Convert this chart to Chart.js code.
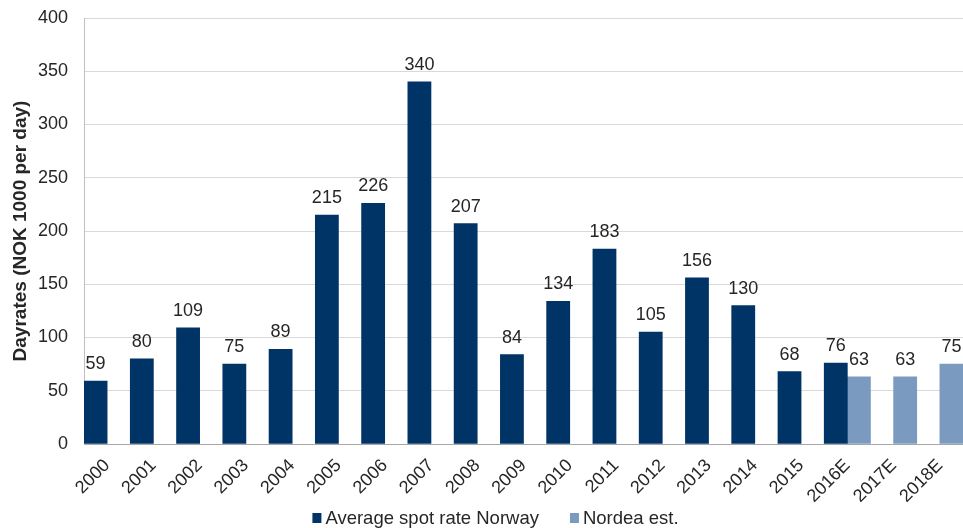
<!DOCTYPE html>
<html>
<head>
<meta charset="utf-8">
<script src="https://cdn.jsdelivr.net/npm/chart.js@4.4.1/dist/chart.umd.min.js"></script>
<style>
  html, body { margin: 0; padding: 0; background: #ffffff; }
  #wrap { width: 963px; height: 528px; }
</style>
</head>
<body>
<div id="wrap"><canvas id="chart" width="963" height="528"></canvas></div>
<script>
// Categories on the x axis
const years = ['2000', '2001', '2002', '2003', '2004', '2005', '2006', '2007', '2008', '2009',
               '2010', '2011', '2012', '2013', '2014', '2015', '2016E', '2017E', '2018E'];

// Average spot rate, NOK 1000 per day
const spotRate = [59, 80, 109, 75, 89, 215, 226, 340, 207, 84,
                  134, 183, 105, 156, 130, 68, 76, null, null];

// Nordea estimates
const nordeaEst = [null, null, null, null, null, null, null, null, null, null,
                   null, null, null, null, null, null, 63, 63, 75];

const seriesNames = ['Average spot rate Norway', 'Nordea est.'];
const yAxisTitle = 'Dayrates (NOK 1000 per day)';
const yMin = 0, yMax = 400, yStep = 50;

const FONT = "'Liberation Sans', Arial, sans-serif";
const DARK = '#003366';
const LIGHT = '#7a9bbf';
const TEXT = '#262626';

// Value labels above each bar
const valueLabels = {
  id: 'valueLabels',
  afterDatasetsDraw(chart) {
    const ctx = chart.ctx;
    ctx.save();
    ctx.font = '18px ' + FONT;
    ctx.fillStyle = TEXT;
    ctx.textAlign = 'center';
    ctx.textBaseline = 'alphabetic';
    chart.data.datasets.forEach((ds, i) => {
      const meta = chart.getDatasetMeta(i);
      meta.data.forEach((bar, j) => {
        const v = ds.data[j];
        if (v === null || v === undefined) return;
        ctx.fillText(String(v), bar.x, bar.y - 12);
      });
    });
    ctx.restore();
  }
};

// Legend row under the axis labels
const bottomLegend = {
  id: 'bottomLegend',
  afterDraw(chart) {
    const ctx = chart.ctx;
    ctx.save();
    ctx.font = '18.5px ' + FONT;
    ctx.textBaseline = 'alphabetic';
    ctx.textAlign = 'left';
    const box = 9, gap = 4, spacing = 31;
    const items = chart.data.datasets.map(ds => ({
      text: ds.label, color: ds.backgroundColor, w: ctx.measureText(ds.label).width
    }));
    let total = 0;
    items.forEach((it, i) => { total += box + gap + it.w + (i < items.length - 1 ? spacing : 0); });
    let x = 495.5 - total / 2;
    const baseline = 524;
    items.forEach(it => {
      ctx.fillStyle = it.color;
      ctx.fillRect(x, baseline - 11, box, box + 1);
      ctx.fillStyle = TEXT;
      ctx.fillText(it.text, x + box + gap, baseline);
      x += box + gap + it.w + spacing;
    });
    ctx.restore();
  }
};

// Scales keep no extra edge padding; the plot area is set by layout padding
function noEdgePadding(scale) {
  scale.paddingTop = 0;
  scale.paddingBottom = 0;
  scale.paddingLeft = 0;
  scale.paddingRight = 0;
}

new Chart(document.getElementById('chart'), {
  type: 'bar',
  data: {
    labels: years,
    datasets: [
      { label: seriesNames[0], data: spotRate, backgroundColor: DARK, borderWidth: 0 },
      { label: seriesNames[1], data: nordeaEst, backgroundColor: LIGHT, borderWidth: 0 }
    ]
  },
  options: {
    responsive: false,
    animation: false,
    devicePixelRatio: 1,
    layout: { padding: { top: 18, right: 0, bottom: 0, left: 0 } },
    datasets: { bar: { categoryPercentage: 1, barPercentage: 1 } },
    plugins: {
      legend: { display: false },
      tooltip: { enabled: false },
      title: { display: false }
    },
    scales: {
      x: {
        grid: { display: false, drawTicks: false },
        border: { display: true, color: '#a6a6a6', width: 1 },
        ticks: {
          autoSkip: false,
          minRotation: 45,
          maxRotation: 45,
          padding: 11,
          color: TEXT,
          font: { family: FONT, size: 18 }
        },
        afterFit(scale) { scale.height = 84; noEdgePadding(scale); }
      },
      y: {
        min: yMin,
        max: yMax,
        grid: { color: '#d9d9d9', lineWidth: 1, drawTicks: false },
        border: { display: true, color: '#bfbfbf', width: 1 },
        ticks: {
          stepSize: yStep,
          padding: 16,
          color: TEXT,
          font: { family: FONT, size: 18 }
        },
        title: {
          display: true,
          text: yAxisTitle,
          color: TEXT,
          padding: { top: 9, bottom: 0 },
          font: { family: FONT, size: 19, weight: 'bold' }
        },
        afterFit(scale) { scale.width = 84; noEdgePadding(scale); }
      }
    }
  },
  plugins: [valueLabels, bottomLegend]
});
</script>
</body>
</html>
